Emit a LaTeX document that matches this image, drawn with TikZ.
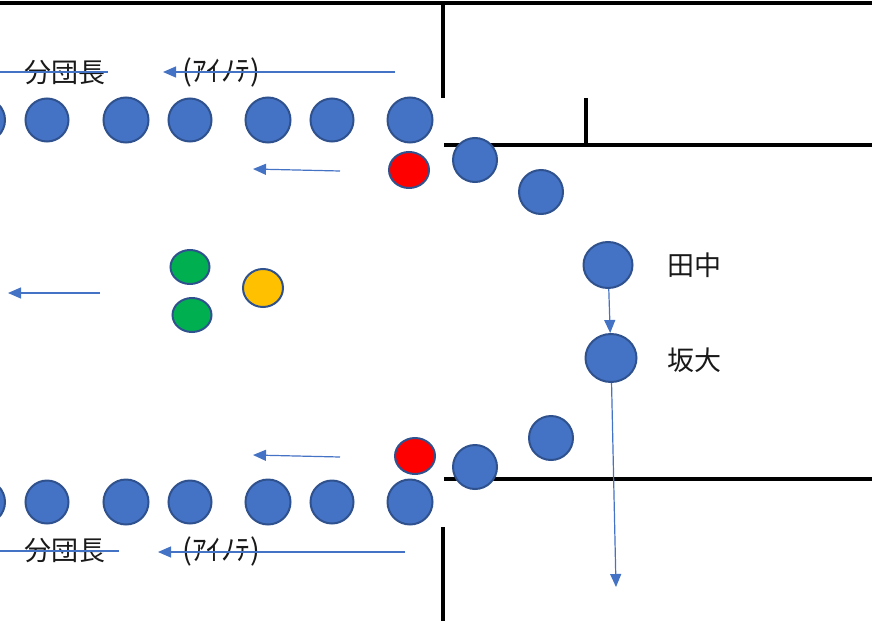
\documentclass[tikz,border=0pt]{standalone}
\usepackage{fontspec}
\setmainfont{Noto Sans CJK JP}
\usepackage{tikz}
\usetikzlibrary{shapes, arrows.meta, calc}
\definecolor{kid}{HTML}{4472C4}
\definecolor{rim}{HTML}{2F528F}
\definecolor{leadred}{HTML}{FF0000}
\definecolor{flaggreen}{HTML}{00B050}
\definecolor{flagyellow}{HTML}{FFC000}
\tikzstyle{person} = [draw=rim, line width=2pt, ellipse, inner sep=0pt, fill=kid]
\tikzstyle{tagtext} = [inner sep=0pt, text=black!90, font=\fontsize{27}{30}\selectfont]
\tikzstyle{walk} = [-{Triangle[length=13pt,width=11pt]}, line width=1.2pt, color=kid]
\tikzstyle{wall} = [line width=3.2pt, black]

\begin{document}
\begin{tikzpicture}[x=1pt, y=-1pt]
    \clip (0,0) rectangle (883,621);
    % road edges
    \draw[wall] (0,3) -- (872,3);
    \draw[wall] (443,3) -- (443,98);
    \draw[wall] (586,98) -- (586,145);
    \draw[wall] (444,145) -- (872,145);
    \draw[wall] (444,479) -- (872,479);
    \draw[wall] (443,527) -- (443,621);
    % two lines of children
    \foreach \x/\r [count=\i] in {-17/22, 47/21.5, 126/22.5, 190/21.5, 268/22.5, 332/21.5, 410/22.5} {
      \node[person, minimum width=2*\r, minimum height=2*\r] (up\i) at (\x,120) {};
      \node[person, minimum width=2*\r, minimum height=2*\r] (dn\i) at (\x,502) {};
    }
    \node[person, fill=leadred, minimum width=40, minimum height=36] (redup) at (409,170) {};
    \node[person, fill=leadred, minimum width=40, minimum height=36] (reddn) at (415,456) {};
    \node[person, minimum width=44, minimum height=44] (turn1) at (475,160) {};
    \node[person, minimum width=44, minimum height=44] (turn2) at (541,192) {};
    \node[person, minimum width=49, minimum height=46] (tanaka) at (608,265) {};
    \node[person, minimum width=51, minimum height=48] (sakadai) at (611,358) {};
    \node[person, minimum width=44, minimum height=44] (turn5) at (551,438) {};
    \node[person, minimum width=44, minimum height=44] (turn6) at (475,467) {};
    \node[person, fill=flaggreen, minimum width=39, minimum height=34] (green1) at (190,267) {};
    \node[person, fill=flaggreen, minimum width=39, minimum height=34] (green2) at (192,315) {};
    \node[person, fill=flagyellow, minimum width=40, minimum height=38] (yellow) at (263,288) {};
    % labels
    \node[tagtext] (chiefup) at (65,73) {分団長};
    \node[tagtext, font=\fontsize{29}{32}\selectfont] (aiup) at (221,72) {(ｱｲﾉﾃ)};
    \node[tagtext] (chiefdn) at (65,551) {分団長};
    \node[tagtext, font=\fontsize{29}{32}\selectfont] (aidn) at (221,551) {(ｱｲﾉﾃ)};
    \node[tagtext] (tanakalbl) at (694,265) {田中};
    \node[tagtext] (sakadailbl) at (694,360) {坂大};
    % walking direction
    \coordinate (ups) at (395,72);
    \coordinate (upe) at (163,72);
    \coordinate (upl) at (108,72);
    \coordinate (upz) at (0,72);
    \coordinate (dns) at (405,552);
    \coordinate (dne) at (158,552);
    \coordinate (dnl) at (119,551);
    \coordinate (dnz) at (0,551);
    \coordinate (m1s) at (340,171);
    \coordinate (m1e) at (253,169);
    \coordinate (m2s) at (100,293);
    \coordinate (m2e) at (8,293);
    \coordinate (m3s) at (340,457);
    \coordinate (m3e) at (253,455);
    \coordinate (exit) at (616,587);
    \draw[walk] (ups) -- (upe);
    \draw[walk, -] (upl) -- (upz);
    \draw[walk] (dns) -- (dne);
    \draw[walk, -] (dnl) -- (dnz);
    \draw[walk] (m1s) -- (m1e);
    \draw[walk] (m2s) -- (m2e);
    \draw[walk] (m3s) -- (m3e);
    \draw[walk] (tanaka) -- (sakadai);
    \draw[walk] (sakadai) -- (exit);
  \end{tikzpicture}
\end{document}
